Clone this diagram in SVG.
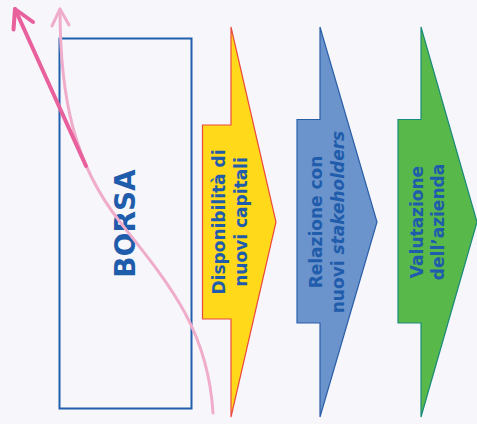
<svg xmlns="http://www.w3.org/2000/svg" width="477" height="424" viewBox="0 0 477 424">
<style>
.lbl{font-family:"DejaVu Sans",Verdana,sans-serif;font-weight:bold;fill:#1f5cab;text-anchor:middle}
.s{font-size:17px}
.big{font-size:28px}
.arr{stroke-width:1.2;stroke-linejoin:miter}
</style>
<rect width="477" height="424" fill="#f7f7fb"/>
<g id="borsa">
<rect x="59.5" y="38.5" width="132" height="370" fill="none" stroke="#1f5fad" stroke-width="2"/>
<text class="lbl big" transform="translate(135,223.5) rotate(-90)">BORSA</text>
</g>
<g id="capitali">
<polygon class="arr" points="231,27 276,222 231,417 231,319 202.5,319 202.5,125 231,125" fill="#ffd91a" stroke="#ec4a3f"/>
<text class="lbl s" transform="translate(225,222) rotate(-90)"><tspan x="0" y="0">Disponibilità di</tspan><tspan x="0" y="21.5">nuovi capitali</tspan></text>
</g>
<g id="stakeholders">
<polygon class="arr" points="320,27 377,222 320,417 320,323 297,323 297,119.5 320,119.5" fill="#6b93cc" stroke="#2a5fa8"/>
<text class="lbl s" transform="translate(321.5,222) rotate(-90)"><tspan x="0" y="0">Relazione con</tspan><tspan x="0" y="22">nuovi <tspan font-style="italic">stakeholders</tspan></tspan></text>
</g>
<g id="valutazione">
<polygon class="arr" points="421,27 477,222 421,417 421,323 398,323 398,119.5 421,119.5" fill="#58b84a" stroke="#1a8a7a"/>
<text class="lbl s" transform="translate(422.7,222) rotate(-90)"><tspan x="0" y="0">Valutazione</tspan><tspan x="0" y="21">dell’azienda</tspan></text>
</g>
<g id="connectors" fill="none" stroke-linecap="round" stroke-linejoin="round">
<path d="M213,413 C208,330 170,285 120,222 C75,165 60,100 60,9" stroke="#efaccb" stroke-width="3"/>
<path d="M52,26 L60,9 L69,25" stroke="#efaccb" stroke-width="3"/>
<path d="M86,166 L15,9" stroke="#e8609c" stroke-width="4"/>
<path d="M13.5,29.5 L15,9 L33,22" stroke="#e8609c" stroke-width="4"/>
</g>
</svg>
